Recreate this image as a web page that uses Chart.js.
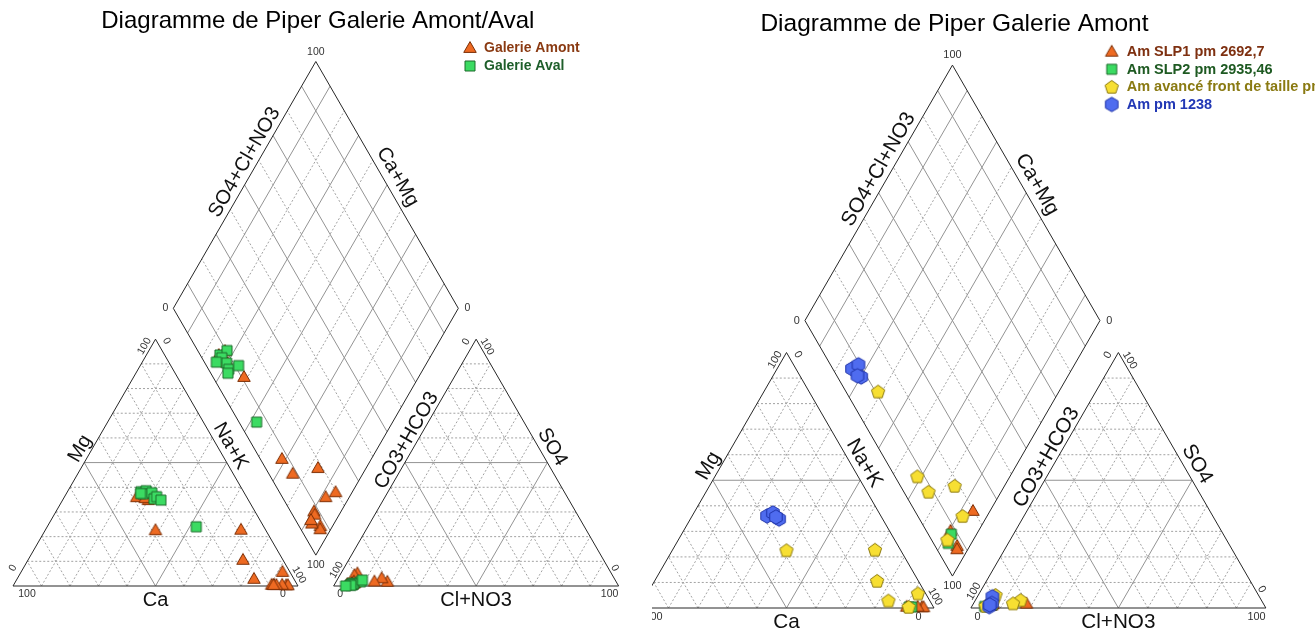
<!DOCTYPE html>
<html>
<head>
<meta charset="utf-8">
<title>Diagrammes de Piper</title>
<script src="https://cdn.jsdelivr.net/npm/chart.js@4.4.1/dist/chart.umd.min.js"></script>
<style>
  html, body { margin: 0; padding: 0; background: #fff; overflow: hidden; }
  #wrap { position: relative; width: 1315px; height: 633px; background: #fff; }
  #leftChart { position: absolute; left: 0; top: 0; }
  #rightChart { position: absolute; left: 652px; top: 0; }
</style>
</head>
<body>
<div id="wrap">
  <canvas id="leftChart" width="652" height="633"></canvas>
  <canvas id="rightChart" width="663" height="633"></canvas>
</div>
<script>
// Compositions in % meq/l
// cations: [Ca, Mg, Na+K]    anions: [CO3+HCO3, SO4, Cl+NO3]

// Am SLP1 pm 2692,7
const slp1Cations = [[9.0, 0.5, 90.5], [4.0, 0.3, 95.7], [3.4, 0.3, 96.3], [5.3, 0.5, 94.2]];
const slp1Anions  = [[91.8, 1.5, 6.7], [92.5, 1.0, 6.5], [93.2, 0.8, 6.0], [80.3, 1.7, 18.0]];

// Am SLP2 pm 2935,46
const slp2Cations = [[8.2, 0.4, 91.4], [7.4, 0.4, 92.2]];
const slp2Anions  = [[92.2, 1.2, 6.6], [95.0, 0.6, 4.4]];

// Am avancé front de taille
const avanceCations = [[38.7, 22.6, 38.7], [8.6, 22.8, 68.6], [14.0, 10.6, 75.4],
                       [14.0, 2.9, 83.1], [2.6, 5.7, 91.7], [8.4, 0.4, 91.2]];
const avanceAnions  = [[89.1, 5.1, 5.8], [92.4, 1.6, 6.0], [91.6, 2.0, 6.4],
                       [81.6, 3.1, 15.3], [84.8, 1.8, 13.4], [94.6, 0.8, 4.6]];

// Am pm 1238
const pm1238Cations = [[38.6, 36.0, 25.4], [36.0, 37.2, 26.8], [35.1, 34.8, 30.1], [35.8, 35.6, 28.6]];
const pm1238Anions  = [[93.5, 0.5, 6.0], [90.5, 4.4, 5.1], [92.0, 1.8, 6.2], [93.0, 1.2, 5.8]];

// Galerie Aval
const avalCations = [[36.0, 38.2, 25.8], [34.0, 38.6, 27.4], [35.7, 37.3, 27.0], [32.4, 37.8, 29.8],
                     [32.9, 35.3, 31.8], [31.5, 36.2, 32.3], [30.7, 34.8, 34.5], [23.7, 24.0, 52.3],
                     [36.5, 37.5, 26.0]];
const avalAnions  = [[93.1, 0.5, 6.4], [89.7, 1.7, 8.6], [93.0, 1.0, 6.0], [92.4, 1.0, 6.6],
                     [92.9, 0.8, 6.3], [94.0, 0.5, 5.5], [88.7, 2.4, 8.9], [93.8, 0.3, 5.9],
                     [95.8, 0.0, 4.2]];

// Galerie Amont = all upstream sampling points together
const amontCations = [...slp1Cations, ...slp2Cations, ...avanceCations, ...pm1238Cations];
const amontAnions  = [...slp1Anions, ...slp2Anions, ...avanceAnions, ...pm1238Anions];

// Axis names and tick labels
const axisNames = { ca: 'Ca', mg: 'Mg', nak: 'Na+K', hco3: 'CO3+HCO3', so4: 'SO4', cl: 'Cl+NO3',
                    dLeft: 'SO4+Cl+NO3', dRight: 'Ca+Mg' };
const tickLabels = ['0', '100'];

// ---- Piper geometry, in data units (triangle side = 100) ----
const H = Math.sqrt(3) / 2;
const GAP = 12.5;
const ANION_X0 = 100 + GAP;

function cationXY(c) { return { x: c[2] + c[1] / 2, y: c[1] * H }; }
function anionXY(a) { return { x: ANION_X0 + a[2] + a[1] / 2, y: a[1] * H }; }
function diamondXY(c, a) {
  const A = c[0] + c[1];          // Ca+Mg
  const B = a[1] + a[2];          // SO4+Cl+NO3
  return { x: 100 + GAP / 2 + (B - A) / 2, y: GAP * H + (A + B) * H };
}
function piperPoints(cations, anions) {
  const pts = [];
  cations.forEach(c => pts.push(cationXY(c)));
  anions.forEach(a => pts.push(anionXY(a)));
  cations.forEach((c, i) => pts.push(diamondXY(c, anions[i])));
  return pts;
}

const CAT = { bl: [0, 0], br: [100, 0], ap: [50, 100 * H] };
const ANI = { bl: [ANION_X0, 0], br: [ANION_X0 + 100, 0], ap: [ANION_X0 + 50, 100 * H] };
const DIA = {
  bo: [100 + GAP / 2, GAP * H],
  l:  [50 + GAP / 2, GAP * H + 100 * H],
  r:  [150 + GAP / 2, GAP * H + 100 * H],
  t:  [100 + GAP / 2, GAP * H + 200 * H]
};

// ---- marker sprites ----
function makeMarker(kind, fill, stroke) {
  const c = document.createElement('canvas');
  c.width = 20; c.height = 20;
  const g = c.getContext('2d');
  g.translate(10, 10);
  let pts = [];
  if (kind === 'triangle') {
    const r = 7.2;
    for (let i = 0; i < 3; i++) { const a = -Math.PI / 2 + i * 2 * Math.PI / 3; pts.push([r * Math.cos(a), r * Math.sin(a) + 0.8]); }
  } else if (kind === 'square') {
    const h = 5.0;
    pts = [[-h, -h], [h, -h], [h, h], [-h, h]];
  } else if (kind === 'pentagon') {
    const r = 7.0;
    for (let i = 0; i < 5; i++) { const a = -Math.PI / 2 + i * 2 * Math.PI / 5; pts.push([r * Math.cos(a), r * Math.sin(a) + 0.5]); }
  } else {
    const r = 7.2;
    for (let i = 0; i < 6; i++) { const a = -Math.PI / 2 + i * Math.PI / 3; pts.push([r * Math.cos(a), r * Math.sin(a)]); }
  }
  g.beginPath();
  pts.forEach((p, i) => i ? g.lineTo(p[0], p[1]) : g.moveTo(p[0], p[1]));
  g.closePath();
  g.fillStyle = fill; g.fill();
  g.lineWidth = 1; g.strokeStyle = stroke; g.stroke();
  return c;
}

const mkTriangle = makeMarker('triangle', '#EE6A22', '#7A2E06');
const mkSquare   = makeMarker('square',   '#3BDB62', '#1D6A2A');
const mkPentagon = makeMarker('pentagon', '#F7DF32', '#8C7A10');
const mkHexagon  = makeMarker('hexagon',  '#4F6CEF', '#1F33A8');

const FONT = '"Liberation Sans", Arial, Helvetica, sans-serif';

// ---- drawing helpers ----
function drawText(ctx, str, x, y, rot, font, color, align) {
  ctx.save();
  ctx.translate(x, y);
  ctx.rotate(rot * Math.PI / 180);
  ctx.font = font;
  ctx.fillStyle = color;
  ctx.textAlign = align || 'center';
  ctx.textBaseline = 'middle';
  ctx.fillText(str, 0, 0);
  ctx.restore();
}

const piperFrame = {
  id: 'piperFrame',
  beforeDatasetsDraw(chart, args, opts) {
    const ctx = chart.ctx;
    const xs = chart.scales.x, ys = chart.scales.y;
    const P = p => [xs.getPixelForValue(p[0]), ys.getPixelForValue(p[1])];
    const s = opts.k / 2.85;

    function seg(a, b, solid) {
      const p = P(a), q = P(b);
      ctx.beginPath();
      ctx.moveTo(p[0], p[1]); ctx.lineTo(q[0], q[1]);
      if (solid) { ctx.setLineDash([]); ctx.strokeStyle = '#939393'; }
      else { ctx.setLineDash([2, 2]); ctx.strokeStyle = '#a2a2a2'; }
      ctx.lineWidth = 1;
      ctx.stroke();
    }

    ctx.save();
    // triangle grids: 10 % steps, 50 % line solid
    [0, ANION_X0].forEach(ox => {
      for (let t = 10; t < 100; t += 10) {
        const solid = t === 50;
        seg([ox + t / 2, t * H], [ox + 100 - t / 2, t * H], solid);
        seg([ox + t, 0], [ox + t + (100 - t) / 2, (100 - t) * H], solid);
        seg([ox + 100 - t, 0], [ox + (100 - t) / 2, (100 - t) * H], solid);
      }
    });
    // diamond grid: solid every 20 %, dashed in between
    const bo = DIA.bo;
    for (let t = 10; t < 100; t += 10) {
      const solid = (t / 10) % 2 === 1;
      seg([bo[0] - t / 2, bo[1] + t * H], [bo[0] - t / 2 + 50, bo[1] + t * H + 100 * H], solid);
      seg([bo[0] + t / 2, bo[1] + t * H], [bo[0] + t / 2 - 50, bo[1] + t * H + 100 * H], solid);
    }
    // outlines
    ctx.setLineDash([]);
    ctx.strokeStyle = '#262626';
    ctx.lineWidth = 1;
    [[CAT.bl, CAT.br, CAT.ap], [ANI.bl, ANI.br, ANI.ap], [DIA.bo, DIA.r, DIA.t, DIA.l]].forEach(poly => {
      ctx.beginPath();
      poly.forEach((v, i) => { const p = P(v); i ? ctx.lineTo(p[0], p[1]) : ctx.moveTo(p[0], p[1]); });
      ctx.closePath();
      ctx.stroke();
    });

    // tick labels at the corners
    const tf = `${(10.5 * s).toFixed(1)}px ${FONT}`;
    const tc = '#333';
    const ticks = [
      [CAT.ap, tickLabels[1], -11, 7, -60], [CAT.ap, tickLabels[0], 11, 2, 60],
      [CAT.bl, tickLabels[0], 0, -18, -60], [CAT.bl, tickLabels[1], 14, 8.5, 0],
      [CAT.br, tickLabels[0], -15, 8.5, 0], [CAT.br, tickLabels[1], 1, -11, 60],
      [ANI.ap, tickLabels[0], -10, 2.5, -60], [ANI.ap, tickLabels[1], 11, 7.5, 60],
      [ANI.bl, tickLabels[1], 3, -16, -60], [ANI.bl, tickLabels[0], 6.5, 8.5, 0],
      [ANI.br, tickLabels[1], -9, 8.5, 0], [ANI.br, tickLabels[0], -4, -18, 60],
      [DIA.t, tickLabels[1], 0, -9.5, 0], [DIA.l, tickLabels[0], -8, 0, 0],
      [DIA.r, tickLabels[0], 9, 0, 0], [DIA.bo, tickLabels[1], 0, 10, 0]
    ];
    ticks.forEach(([v, str, dx, dy, rot]) => {
      const p = P(v);
      drawText(ctx, str, p[0] + dx * s, p[1] + dy * s, rot, tf, tc);
    });

    // axis names along the edges
    const af = `${(20 * s).toFixed(1)}px ${FONT}`;
    function edgeName(str, a, b, frac, off, rot) {
      const p = P(a), q = P(b);
      const x = p[0] + (q[0] - p[0]) * frac, y = p[1] + (q[1] - p[1]) * frac;
      const nx = rot < 0 ? -H : H, ny = -0.5;
      drawText(ctx, str, x + nx * off * s, y + ny * off * s, rot, af, '#111');
    }
    edgeName(axisNames.mg, CAT.bl, CAT.ap, 0.535, 10.5, -60);
    edgeName(axisNames.nak, CAT.br, CAT.ap, 0.543, 11.6, 60);
    edgeName(axisNames.hco3, ANI.bl, ANI.ap, 0.57, 9.5, -60);
    edgeName(axisNames.so4, ANI.br, ANI.ap, 0.539, 12, 60);
    edgeName(axisNames.dLeft, DIA.l, DIA.t, 0.569, 11.3, -60);
    edgeName(axisNames.dRight, DIA.r, DIA.t, 0.506, 13, 60);
    const cb = P([50, 0]), ab = P([ANION_X0 + 50, 0]);
    drawText(ctx, axisNames.ca, cb[0], cb[1] + 14 * s, 0, af, '#111');
    drawText(ctx, axisNames.cl, ab[0], ab[1] + 14 * s, 0, af, '#111');
    ctx.restore();
  },
  afterDraw(chart, args, opts) {
    const ctx = chart.ctx;
    const xs = chart.scales.x;
    // title centred over the diamond
    drawText(ctx, opts.title, xs.getPixelForValue(DIA.t[0]) + opts.titleDx, opts.titleY,
             0, `${opts.titleSize}px ${FONT}`, '#000');
    // legend
    const lg = opts.legend;
    chart.data.datasets.forEach((ds, i) => {
      const y = lg.y + i * lg.dy;
      ctx.drawImage(ds.pointStyle, lg.x - 10, y - 10);
      drawText(ctx, ds.label, lg.x + lg.gap, y + 0.5, 0, `bold ${lg.size}px ${FONT}`, ds.labelColor, 'left');
    });
  }
};

function buildChart(canvasId, datasets, cfg) {
  const k = cfg.k;
  const xmin = -cfg.ox / k, ymax = cfg.oy / k;
  return new Chart(document.getElementById(canvasId), {
    type: 'scatter',
    data: { datasets },
    options: {
      responsive: false,
      animation: false,
      devicePixelRatio: 1,
      events: [],
      layout: { autoPadding: false, padding: 0 },
      scales: {
        x: { type: 'linear', display: false, min: xmin, max: xmin + cfg.w / k },
        y: { type: 'linear', display: false, min: ymax - 633 / k, max: ymax }
      },
      plugins: {
        legend: { display: false },
        title: { display: false },
        tooltip: { enabled: false },
        piperFrame: cfg
      }
    },
    plugins: [piperFrame]
  });
}

function series(label, labelColor, marker, cations, anions, order) {
  return {
    label, labelColor, order,
    data: piperPoints(cations, anions),
    pointStyle: marker,
    pointRadius: 6,
    showLine: false
  };
}

buildChart('leftChart', [
  series('Galerie Amont', '#8A3A12', mkTriangle, amontCations, amontAnions, 2),
  series('Galerie Aval', '#1E5E2A', mkSquare, avalCations, avalAnions, 1)
], {
  k: 2.85, ox: 13, oy: 586, w: 652,
  title: 'Diagramme de Piper Galerie Amont/Aval', titleY: 21, titleDx: 2, titleSize: 24,
  legend: { x: 470, y: 48, dy: 18, gap: 14, size: 14 }
});

buildChart('rightChart', [
  series('Am SLP1 pm 2692,7', '#7E3010', mkTriangle, slp1Cations, slp1Anions, 4),
  series('Am SLP2 pm 2935,46', '#1E5A22', mkSquare, slp2Cations, slp2Anions, 3),
  series('Am avancé front de taille pm', '#8A7A12', mkPentagon, avanceCations, avanceAnions, 2),
  series('Am pm 1238', '#2238B5', mkHexagon, pm1238Cations, pm1238Anions, 1)
], {
  k: 2.95, ox: -13, oy: 608, w: 663,
  title: 'Diagramme de Piper Galerie Amont', titleY: 24, titleDx: 2, titleSize: 24.5,
  legend: { x: 459.7, y: 51.7, dy: 17.6, gap: 15, size: 14.5 }
});
</script>
</body>
</html>
